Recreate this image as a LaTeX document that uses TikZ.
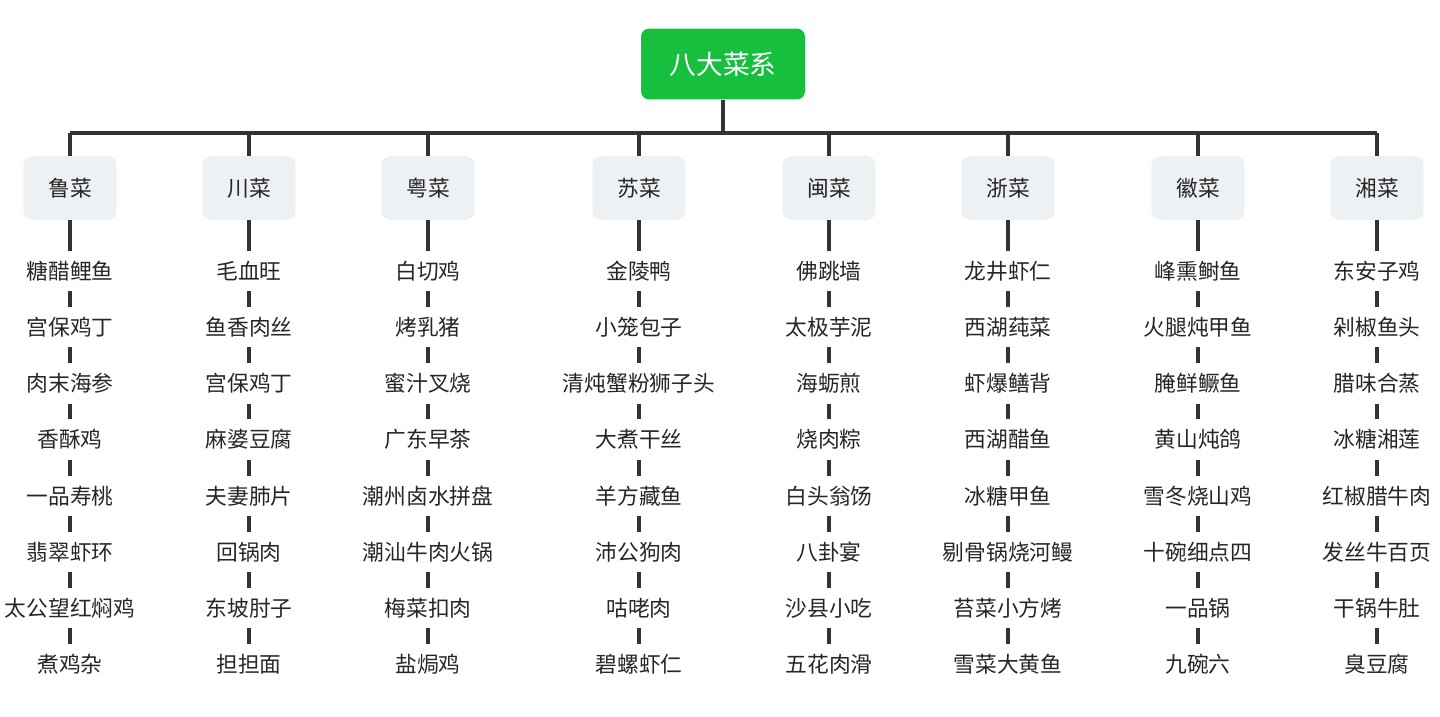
\documentclass[tikz,border=0pt]{standalone}
\usepackage{fontspec}
\setmainfont{Noto Sans CJK SC}
\definecolor{rootgreen}{HTML}{16BF3E}
\definecolor{catgray}{HTML}{EEF1F4}
\definecolor{linegray}{HTML}{333333}
\tikzset{
  root/.style={fill=rootgreen, rounded corners=6pt, text=white, minimum width=123pt, minimum height=53pt, font=\fontsize{20}{22}\selectfont},
  cat/.style={fill=catgray, rounded corners=7pt, text=black!85, minimum width=70pt, minimum height=48pt, font=\fontsize{16.3}{18}\selectfont},
  dish/.style={text=black!85, minimum height=30pt, inner sep=0pt, font=\fontsize{16.3}{18}\selectfont},
  link/.style={draw=linegray, line width=2.4pt}
}
\begin{document}
\begin{tikzpicture}[x=0.75pt,y=-0.75pt]
\useasboundingbox (0,0) rectangle (1440,717);
\node[root] (root) at (723,64) {八大菜系};
\coordinate (bar) at (723,133);
\draw[link] (root) -- (bar);
\draw[link] (70,133) -- (1377,133);

\foreach \i/\x/\c/\dishes in {
  1/70/鲁菜/{糖醋鲤鱼,宫保鸡丁,肉末海参,香酥鸡,一品寿桃,翡翠虾环,太公望红焖鸡,煮鸡杂},
  2/249/川菜/{毛血旺,鱼香肉丝,宫保鸡丁,麻婆豆腐,夫妻肺片,回锅肉,东坡肘子,担担面},
  3/428/粤菜/{白切鸡,烤乳猪,蜜汁叉烧,广东早茶,潮州卤水拼盘,潮汕牛肉火锅,梅菜扣肉,盐焗鸡},
  4/639/苏菜/{金陵鸭,小笼包子,清炖蟹粉狮子头,大煮干丝,羊方藏鱼,沛公狗肉,咕咾肉,碧螺虾仁},
  5/829/闽菜/{佛跳墙,太极芋泥,海蛎煎,烧肉粽,白头翁饧,八卦宴,沙县小吃,五花肉滑},
  6/1008/浙菜/{龙井虾仁,西湖莼菜,虾爆鳝背,西湖醋鱼,冰糖甲鱼,剔骨锅烧河鳗,苔菜小方烤,雪菜大黄鱼},
  7/1198/徽菜/{峰熏鲥鱼,火腿炖甲鱼,腌鲜鳜鱼,黄山炖鸽,雪冬烧山鸡,十碗细点四,一品锅,九碗六},
  8/1377/湘菜/{东安子鸡,剁椒鱼头,腊味合蒸,冰糖湘莲,红椒腊牛肉,发丝牛百页,干锅牛肚,臭豆腐}}{
  \node[cat] (c\i) at (\x,188) {\c};
  \coordinate (t\i) at (\x,133);
  \draw[link] (t\i) -- (c\i);
  \foreach \d [count=\k] in \dishes {
    \node[dish] (d\i-\k) at (\x,{271+56.2*(\k-1)}) {\d};
  }
  \draw[link] (c\i) -- (d\i-1);
  \foreach \k [evaluate=\k as \n using int(\k+1)] in {1,...,7} {
    \draw[link] (d\i-\k) -- (d\i-\n);
  }
}
\end{tikzpicture}
\end{document}
